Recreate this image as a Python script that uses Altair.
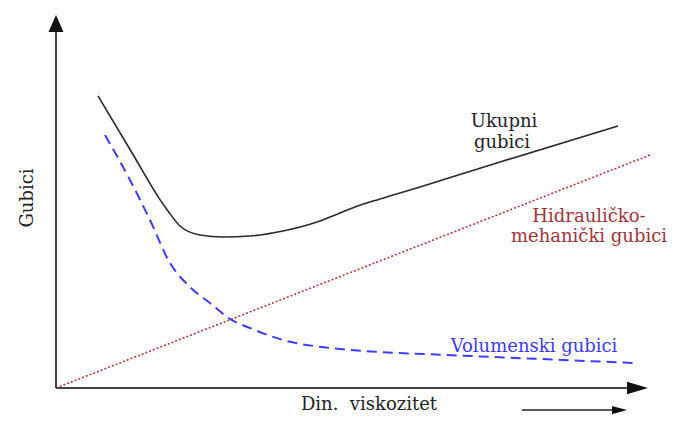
import altair as alt
import pandas as pd

# Curve data (x = viscosity, y = losses)
ukupni_x = [42, 77, 104, 112, 124, 144, 167, 194, 227, 261, 284, 299, 324, 364, 444, 562]
ukupni_y = [292, 233.5, 188.4, 177, 162, 153, 151, 152, 157, 166, 175, 181, 189, 201, 226, 262]

volum_x = [49, 74, 94, 114, 134, 154, 174, 194, 227, 274, 324, 391, 484, 577]
volum_y = [253, 208, 168, 125, 101, 85, 69, 60, 48, 40, 36, 33, 29, 25]

hidro_x = [0, 594]
hidro_y = [0, 233]

# Axis geometry (in data units)
axis_y_top = 370
axis_x_right = 585

labels_text = ["Ukupni", "gubici", "Hidrauličko-", "mehanički gubici", "Volumenski gubici"]
labels_x = [448, 446, 533, 533, 478]
labels_y = [266, 245, 171, 151, 41]
labels_color = ["#222222", "#222222", "#a3333b", "#a3333b", "#3b3bf0"]

xlabel = "Din.\u00a0 viskozitet"
ylabel = "Gubici"

SERIF = "DejaVu Serif"

XD = [-48, 619]
YD = [-27, 380]

X = lambda f="x": alt.X(f"{f}:Q", scale=alt.Scale(domain=XD), axis=None)
Y = lambda f="y": alt.Y(f"{f}:Q", scale=alt.Scale(domain=YD), axis=None)

uk = pd.DataFrame({"x": ukupni_x, "y": ukupni_y})
vo = pd.DataFrame({"x": volum_x, "y": volum_y})
hi = pd.DataFrame({"x": hidro_x, "y": hidro_y})

l_uk = alt.Chart(uk).mark_line(color="#2a2a2a", strokeWidth=1.6, interpolate="monotone").encode(x=X(), y=Y())
l_vo = alt.Chart(vo).mark_line(color="#3d3dff", strokeWidth=2, strokeDash=[10, 6], interpolate="monotone").encode(x=X(), y=Y())
l_hi = alt.Chart(hi).mark_line(color="#b03a3a", strokeWidth=1.6, strokeDash=[2, 2]).encode(x=X(), y=Y())

axes_df = pd.DataFrame({
    "x": [0, 0],
    "y": [0, 0],
    "x2": [0, axis_x_right],
    "y2": [axis_y_top, 0],
})
axes = alt.Chart(axes_df).mark_rule(color="#444444", strokeWidth=2).encode(
    x=X(), y=Y(), x2="x2:Q", y2="y2:Q")

small_arrow = alt.Chart(pd.DataFrame({"x": [466], "x2": [566], "y": [-22]})).mark_rule(
    color="#222222", strokeWidth=1.5).encode(x=X(), x2="x2:Q", y=Y())

up_tri = "M0,-1L0.88,1L-0.88,1Z"
right_tri = "M1,0L-1,0.6L-1,-0.6Z"
small_tri = "M1,0L-1,0.55L-1,-0.55Z"

head_up = alt.Chart(pd.DataFrame({"x": [0], "y": [364.5]})).mark_point(
    shape=up_tri, size=289, filled=True, color="#111111", opacity=1).encode(x=X(), y=Y())
head_right = alt.Chart(pd.DataFrame({"x": [581.5], "y": [0]})).mark_point(
    shape=right_tri, size=441, filled=True, color="#111111", opacity=1).encode(x=X(), y=Y())
head_small = alt.Chart(pd.DataFrame({"x": [563.5], "y": [-22]})).mark_point(
    shape=small_tri, size=225, filled=True, color="#111111", opacity=1).encode(x=X(), y=Y())

lab = pd.DataFrame({"t": labels_text, "x": labels_x, "y": labels_y, "c": labels_color})
texts = alt.Chart(lab).mark_text(font=SERIF, fontSize=18, align="center", baseline="middle").encode(
    x=X(), y=Y(), text="t:N", color=alt.Color("c:N", scale=None))

xlab = alt.Chart(pd.DataFrame({"x": [313], "y": [-22], "t": [xlabel]})).mark_text(
    font=SERIF, fontSize=18, align="center", baseline="alphabetic", color="#222222").encode(
    x=X(), y=Y(), text="t:N")

gub = alt.Chart(pd.DataFrame({"x": [-28], "y": [190], "t": [ylabel]})).mark_text(
    font=SERIF, fontSize=18, angle=270, align="center", baseline="middle", color="#222222").encode(
    x=X(), y=Y(), text="t:N")

chart = alt.layer(l_hi, l_vo, l_uk, axes, small_arrow, head_up, head_right, head_small, texts, xlab, gub).properties(
    width=667, height=407, padding=0, autosize=alt.AutoSizeParams(type="none"),
    background="white"
).configure_view(stroke=None)

chart.save("out.html", embed_options={"renderer": "svg", "actions": False})
